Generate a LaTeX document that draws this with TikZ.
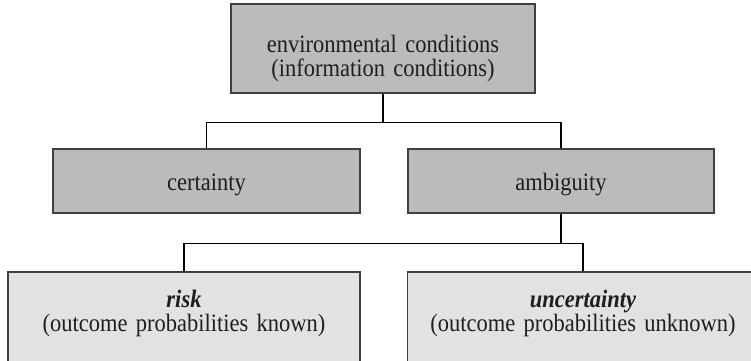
\documentclass[tikz,border=0pt]{standalone}
\usepackage{fontspec}
% slightly condensed serif, set tall
\setmainfont{Liberation Serif}[FakeStretch=0.9]
\definecolor{midfill}{RGB}{187,187,187}
\definecolor{lowfill}{RGB}{226,226,226}
\definecolor{boxline}{RGB}{64,64,64}
\definecolor{inktext}{RGB}{30,30,30}
\begin{document}
\begin{tikzpicture}[x=1pt,y=-1pt,
  % text width fixes the box width; text height / text depth fix where the
  % first baseline sits between the top and bottom edges
  box/.style={draw=boxline,line width=1.5pt,text=inktext,align=center,
    font=\fontsize{25}{24}\selectfont,inner sep=0pt,anchor=north},
  upperbox/.style={box,fill=midfill},
  lowerbox/.style={box,fill=lowfill},
  link/.style={draw=black,line width=1.2pt}]
\useasboundingbox (0,0) rectangle (751,360);
\clip (0,0) rectangle (751,360);
% first level
\node[upperbox,text width=304pt,text height=49pt,text depth=40pt] (env) at (383,3)
  {environmental conditions\\(information conditions)};
% second level
\node[upperbox,text width=307pt,text height=42pt,text depth=22pt] (cert) at (206.5,148) {certainty};
\node[upperbox,text width=306pt,text height=42pt,text depth=22pt] (amb) at (561,148) {ambiguity};
% third level, running past the lower edge
\node[lowerbox,text width=352pt,text height=36pt,text depth=120pt] (risk) at (184,271)
  {\textbf{\textit{risk}}\\(outcome probabilities known)};
\node[lowerbox,text width=351pt,text height=36pt,text depth=120pt] (unc) at (583,271)
  {\textbf{\textit{uncertainty}}\\(outcome probabilities unknown)};
% connectors
\path[link] (env.south) -- ++(0,29) coordinate (j1);
\path[link] (cert.north) |- (j1) -| (amb.north);
\path[link] (amb.south) -- ++(0,30) coordinate (j2);
\path[link] (risk.north) |- (j2) -| (unc.north);
\end{tikzpicture}
\end{document}
